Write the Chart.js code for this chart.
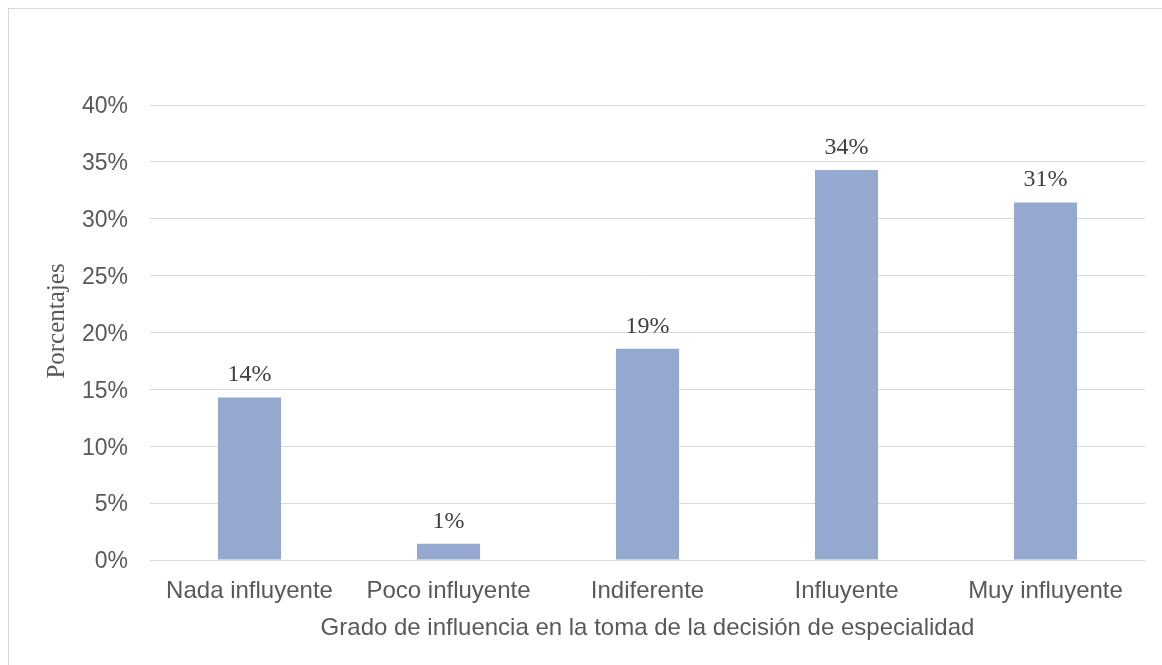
<!DOCTYPE html>
<html>
<head>
<meta charset="utf-8">
<script src="https://cdn.jsdelivr.net/npm/chart.js@4.4.1/dist/chart.umd.min.js"></script>
<style>
  html, body { margin: 0; padding: 0; background: #fff; overflow: hidden; }
  #frame { position: absolute; left: 8px; top: 8px; width: 1170px; height: 680px; border: 1px solid #d9d9d9; }
  #wrap { position: absolute; left: 0; top: 0; width: 1162px; height: 665px; }
</style>
</head>
<body>
<div id="frame"></div>
<div id="wrap"><canvas id="chart"></canvas></div>
<script>
// data (share of answers, %)
const categories = ["Nada influyente", "Poco influyente", "Indiferente", "Influyente", "Muy influyente"];
const percentages = [14.29, 1.43, 18.57, 34.29, 31.43];
const yTicks = [0, 5, 10, 15, 20, 25, 30, 35, 40];

const xTitle = "Grado de influencia en la toma de la decisión de especialidad";
const yTitle = "Porcentajes";

// "14%" style labels above each bar, plus the rotated y title (sits a bit above the plot centre, like the original)
const valueLabels = {
    id: "valueLabels",
    afterDatasetsDraw(chart) {
        const ctx = chart.ctx;
        const meta = chart.getDatasetMeta(0);
        ctx.save();
        ctx.font = "24px 'Liberation Serif'";
        ctx.fillStyle = "#404040";
        ctx.textAlign = "center";
        ctx.textBaseline = "alphabetic";
        meta.data.forEach((bar, i) => {
            ctx.fillText(Math.round(percentages[i]) + "%", bar.x, bar.y - 16);
        });
        ctx.restore();

        ctx.save();
        ctx.font = "25px 'Liberation Serif'";
        ctx.fillStyle = "#595959";
        ctx.textAlign = "center";
        ctx.textBaseline = "middle";
        ctx.translate(57, 321);
        ctx.rotate(-Math.PI / 2);
        ctx.fillText(yTitle, 0, 0);
        ctx.restore();
    }
};

new Chart(document.getElementById("chart").getContext("2d"), {
    type: "bar",
    data: {
        labels: categories,
        datasets: [{
            data: percentages,
            backgroundColor: "#95a9d0",
            borderWidth: 0,
            categoryPercentage: 1,
            barPercentage: 0.317
        }]
    },
    options: {
        responsive: true,
        maintainAspectRatio: false,
        animation: false,
        layout: { padding: { top: 105, right: 17, left: 0, bottom: 0 } },
        plugins: {
            legend: { display: false },
            tooltip: { enabled: false }
        },
        scales: {
            x: {
                grid: { display: false },
                border: { display: false },
                ticks: {
                    color: "#595959",
                    font: { family: "'Liberation Sans'", size: 24 },
                    padding: 9,
                    maxRotation: 0,
                    autoSkip: false
                },
                title: {
                    display: true,
                    text: xTitle,
                    color: "#595959",
                    font: { family: "'Liberation Sans'", size: 24 },
                    padding: { top: 0, bottom: 22 }
                },
                afterFit(scale) { scale.height = 105; }
            },
            y: {
                min: 0,
                max: 40,
                afterBuildTicks(scale) { scale.ticks = yTicks.map(v => ({ value: v })); },
                grid: { color: "#d9d9d9", lineWidth: 1, drawTicks: false },
                border: { display: false },
                ticks: {
                    color: "#595959",
                    font: { family: "'Liberation Sans'", size: 23 },
                    padding: 22,
                    labelOffset: 2,
                    callback: v => v + "%"
                },
                afterFit(scale) { scale.width = 150; }
            }
        }
    },
    plugins: [valueLabels]
});
</script>
</body>
</html>
